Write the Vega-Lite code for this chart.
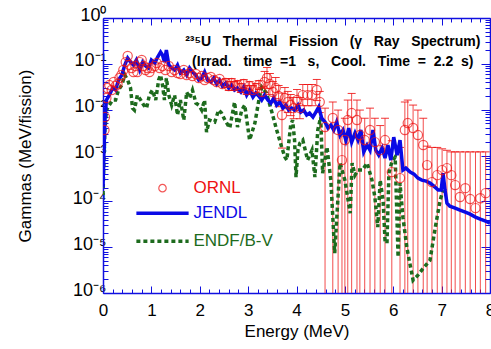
{
  "$schema": "https://vega.github.io/schema/vega-lite/v6.json",
  "width": 387,
  "height": 275,
  "autosize": {"type": "none"},
  "padding": {"left": 103, "top": 18, "right": 1, "bottom": 56},
  "background": "white",
  "config": {
    "view": {"stroke": null},
    "font": "Liberation Sans",
    "axis": {"grid": false, "labelFont": "Liberation Sans", "titleFont": "Liberation Sans"}
  },
  "datasets": {
    "jendl": [{"x":0,"y":0.000204},{"x":0.02,"y":0.00131},{"x":0.04,"y":0.00593},{"x":0.07,"y":0.0162},{"x":0.13,"y":0.0208},{"x":0.2,"y":0.0296},{"x":0.26,"y":0.0268},{"x":0.32,"y":0.0443},{"x":0.39,"y":0.0569},{"x":0.45,"y":0.094},{"x":0.51,"y":0.134},{"x":0.57,"y":0.109},{"x":0.63,"y":0.094},{"x":0.69,"y":0.121},{"x":0.76,"y":0.0733},{"x":0.82,"y":0.109},{"x":0.88,"y":0.0895},{"x":0.94,"y":0.081},{"x":1.0,"y":0.121},{"x":1.07,"y":0.104},{"x":1.13,"y":0.141},{"x":1.19,"y":0.181},{"x":1.23,"y":0.156},{"x":1.27,"y":0.109},{"x":1.31,"y":0.2},{"x":1.36,"y":0.094},{"x":1.42,"y":0.081},{"x":1.48,"y":0.0733},{"x":1.54,"y":0.094},{"x":1.6,"y":0.063},{"x":1.67,"y":0.0733},{"x":1.73,"y":0.0569},{"x":1.79,"y":0.081},{"x":1.85,"y":0.0662},{"x":1.92,"y":0.0569},{"x":1.98,"y":0.0443},{"x":2.04,"y":0.049},{"x":2.1,"y":0.0662},{"x":2.16,"y":0.0443},{"x":2.23,"y":0.0401},{"x":2.29,"y":0.049},{"x":2.35,"y":0.0362},{"x":2.41,"y":0.0443},{"x":2.47,"y":0.0327},{"x":2.54,"y":0.0381},{"x":2.6,"y":0.0296},{"x":2.66,"y":0.0344},{"x":2.72,"y":0.0268},{"x":2.78,"y":0.0296},{"x":2.85,"y":0.0242},{"x":2.91,"y":0.0311},{"x":2.97,"y":0.0208},{"x":3.03,"y":0.0268},{"x":3.1,"y":0.0188},{"x":3.16,"y":0.023},{"x":3.22,"y":0.0198},{"x":3.28,"y":0.0162},{"x":3.34,"y":0.0208},{"x":3.41,"y":0.0162},{"x":3.47,"y":0.0139},{"x":3.53,"y":0.0179},{"x":3.59,"y":0.0126},{"x":3.65,"y":0.0147},{"x":3.72,"y":0.0108},{"x":3.78,"y":0.0126},{"x":3.84,"y":0.0098},{"x":3.9,"y":0.0108},{"x":3.96,"y":0.0098},{"x":4.03,"y":0.0126},{"x":4.09,"y":0.00887},{"x":4.15,"y":0.0098},{"x":4.21,"y":0.00762},{"x":4.27,"y":0.00843},{"x":4.34,"y":0.00689},{"x":4.4,"y":0.00887},{"x":4.46,"y":0.0115},{"x":4.52,"y":0.00656},{"x":4.59,"y":0.00536},{"x":4.65,"y":0.00397},{"x":4.71,"y":0.00461},{"x":4.77,"y":0.00359},{"x":4.83,"y":0.00536},{"x":4.9,"y":0.00279},{"x":4.96,"y":0.00359},{"x":5.02,"y":0.00217},{"x":5.08,"y":0.00397},{"x":5.14,"y":0.00196},{"x":5.21,"y":0.00308},{"x":5.27,"y":0.00217},{"x":5.33,"y":0.00359},{"x":5.39,"y":0.00119},{"x":5.46,"y":0.00169},{"x":5.52,"y":0.00131},{"x":5.58,"y":0.00359},{"x":5.64,"y":0.00131},{"x":5.7,"y":0.00102},{"x":5.77,"y":0.00145},{"x":5.83,"y":0.000878},{"x":5.89,"y":0.00169},{"x":5.95,"y":0.000794},{"x":6.01,"y":0.00252},{"x":6.08,"y":0.00102},{"x":6.14,"y":0.00217},{"x":6.2,"y":0.00048},{"x":6.26,"y":0.000531},{"x":6.35,"y":0.000434},{"x":6.43,"y":0.000393},{"x":6.51,"y":0.000321},{"x":6.59,"y":0.00029},{"x":6.68,"y":0.000276},{"x":6.76,"y":0.00025},{"x":6.84,"y":0.000215},{"x":6.93,"y":0.000176},{"x":6.99,"y":0.000176},{"x":7.03,"y":0.000413},{"x":7.07,"y":0.000176},{"x":7.11,"y":0.0000914},{"x":7.17,"y":0.0000785},{"x":7.28,"y":0.0000711},{"x":7.38,"y":0.0000643},{"x":7.49,"y":0.0000581},{"x":7.59,"y":0.0000526},{"x":7.7,"y":0.0000452},{"x":7.8,"y":0.0000409},{"x":7.91,"y":0.000037},{"x":8.0,"y":0.0000334}],
    "endf": [{"x":0,"y":0.000137},{"x":0.02,"y":0.000794},{"x":0.04,"y":0.00359},{"x":0.07,"y":0.0098},{"x":0.13,"y":0.0126},{"x":0.2,"y":0.0162},{"x":0.26,"y":0.0162},{"x":0.32,"y":0.0268},{"x":0.39,"y":0.0344},{"x":0.45,"y":0.0569},{"x":0.51,"y":0.0443},{"x":0.57,"y":0.0296},{"x":0.61,"y":0.0108},{"x":0.65,"y":0.0098},{"x":0.71,"y":0.0208},{"x":0.78,"y":0.0162},{"x":0.84,"y":0.0126},{"x":0.9,"y":0.0108},{"x":0.96,"y":0.0208},{"x":1.02,"y":0.0268},{"x":1.09,"y":0.0162},{"x":1.15,"y":0.0443},{"x":1.19,"y":0.0569},{"x":1.23,"y":0.0344},{"x":1.27,"y":0.0162},{"x":1.31,"y":0.049},{"x":1.36,"y":0.0208},{"x":1.42,"y":0.0126},{"x":1.48,"y":0.0208},{"x":1.54,"y":0.00762},{"x":1.6,"y":0.0162},{"x":1.67,"y":0.00593},{"x":1.73,"y":0.0242},{"x":1.79,"y":0.0179},{"x":1.85,"y":0.0268},{"x":1.92,"y":0.0139},{"x":1.98,"y":0.0126},{"x":2.04,"y":0.0098},{"x":2.1,"y":0.0162},{"x":2.14,"y":0.00324},{"x":2.2,"y":0.00593},{"x":2.31,"y":0.00536},{"x":2.39,"y":0.0098},{"x":2.45,"y":0.00843},{"x":2.52,"y":0.00593},{"x":2.62,"y":0.00397},{"x":2.72,"y":0.0147},{"x":2.78,"y":0.00417},{"x":2.87,"y":0.0098},{"x":2.93,"y":0.0126},{"x":3.03,"y":0.00217},{"x":3.14,"y":0.0051},{"x":3.24,"y":0.0208},{"x":3.28,"y":0.0311},{"x":3.38,"y":0.023},{"x":3.49,"y":0.00887},{"x":3.59,"y":0.00359},{"x":3.7,"y":0.00145},{"x":3.76,"y":0.000923},{"x":3.8,"y":0.000794},{"x":3.88,"y":0.00461},{"x":3.92,"y":0.00593},{"x":3.96,"y":0.00217},{"x":3.99,"y":0.000338},{"x":4.03,"y":0.00131},{"x":4.07,"y":0.00187},{"x":4.13,"y":0.00217},{"x":4.23,"y":0.000794},{"x":4.32,"y":0.00131},{"x":4.38,"y":0.000338},{"x":4.44,"y":0.00359},{"x":4.5,"y":0.00689},{"x":4.54,"y":0.000413},{"x":4.63,"y":0.00153},{"x":4.71,"y":0.00029},{"x":4.79,"y":0.0000074},{"x":4.83,"y":0.0000389},{"x":4.9,"y":0.000683},{"x":5.0,"y":0.00029},{"x":5.11,"y":0.0000553},{"x":5.15,"y":0.000683},{"x":5.21,"y":0.000373},{"x":5.27,"y":0.00048},{"x":5.36,"y":0.00048},{"x":5.46,"y":0.000683},{"x":5.56,"y":0.00029},{"x":5.62,"y":0.000124},{"x":5.68,"y":0.0000273},{"x":5.73,"y":0.00029},{"x":5.79,"y":0.000106},{"x":5.83,"y":0.0000142},{"x":5.87,"y":0.0000122},{"x":5.91,"y":0.000413},{"x":5.97,"y":0.000718},{"x":6.04,"y":0.000923},{"x":6.1,"y":0.00000605},{"x":6.14,"y":0.00025},{"x":6.2,"y":0.0000452},{"x":6.28,"y":0.00001},{"x":6.35,"y":0.00000405},{"x":6.41,"y":0.0000019},{"x":6.51,"y":0.00000245},{"x":6.62,"y":0.00000348},{"x":6.76,"y":0.0000052},{"x":6.87,"y":0.0000273},{"x":6.97,"y":0.000106},{"x":7.03,"y":0.000176}],
    "ornl": [{"x":0.03,"v":0.00359},{"x":0.04,"v":0.00689},{"x":0.07,"v":0.0179},{"x":0.09,"v":0.0296},{"x":0.13,"v":0.0344},{"x":0.18,"v":0.0268},{"x":0.22,"v":0.0401},{"x":0.26,"v":0.0327},{"x":0.3,"v":0.0362},{"x":0.34,"v":0.049},{"x":0.38,"v":0.0569},{"x":0.42,"v":0.0733},{"x":0.47,"v":0.109},{"x":0.51,"v":0.148},{"x":0.55,"v":0.094},{"x":0.59,"v":0.081},{"x":0.63,"v":0.0662},{"x":0.67,"v":0.0895},{"x":0.71,"v":0.0662},{"x":0.76,"v":0.109},{"x":0.8,"v":0.121},{"x":0.84,"v":0.0895},{"x":0.88,"v":0.0733},{"x":0.92,"v":0.081},{"x":0.96,"v":0.0662},{"x":1.0,"v":0.081},{"x":1.07,"v":0.0895},{"x":1.11,"v":0.104},{"x":1.17,"v":0.081},{"x":1.23,"v":0.0895},{"x":1.29,"v":0.0733},{"x":1.36,"v":0.0895},{"x":1.42,"v":0.0662},{"x":1.48,"v":0.0733},{"x":1.54,"v":0.063},{"x":1.6,"v":0.0599},{"x":1.67,"v":0.0733},{"x":1.73,"v":0.0569},{"x":1.79,"v":0.063},{"x":1.85,"v":0.0542},{"x":1.92,"v":0.0599},{"x":1.98,"v":0.049},{"x":2.04,"v":0.0542},{"x":2.1,"v":0.0443},{"x":2.16,"v":0.049},{"x":2.23,"v":0.0515},{"x":2.29,"v":0.0443},{"x":2.35,"v":0.0401},{"x":2.41,"v":0.0466},{"x":2.47,"v":0.0362},
      {"x":2.54,"v":0.0381,"hi":0.0476,"lo":0.0305},{"x":2.6,"v":0.0327,"hi":0.0409,"lo":0.0262},{"x":2.66,"v":0.0381,"hi":0.0476,"lo":0.0305},{"x":2.72,"v":0.0327,"hi":0.0409,"lo":0.0262},{"x":2.78,"v":0.0344,"hi":0.043,"lo":0.0275},{"x":2.85,"v":0.0296,"hi":0.037,"lo":0.0237},{"x":2.91,"v":0.0362,"hi":0.0453,"lo":0.029},{"x":2.97,"v":0.0268,"hi":0.0335,"lo":0.0214},{"x":3.03,"v":0.0327,"hi":0.0409,"lo":0.0262},{"x":3.1,"v":0.0268,"hi":0.0335,"lo":0.0214},{"x":3.16,"v":0.0296,"hi":0.037,"lo":0.0237},{"x":3.22,"v":0.0344,"hi":0.043,"lo":0.0275},{"x":3.28,"v":0.0242,"hi":0.0303,"lo":0.0194},
      {"x":3.34,"v":0.0401,"hi":0.0682,"lo":0.0236},{"x":3.39,"v":0.049,"hi":0.0833,"lo":0.0288},{"x":3.45,"v":0.0362,"hi":0.0615,"lo":0.0213},{"x":3.51,"v":0.0242,"hi":0.0411,"lo":0.0142},{"x":3.57,"v":0.0296,"hi":0.0503,"lo":0.0174},{"x":3.63,"v":0.0198,"hi":0.0337,"lo":0.0116},{"x":3.7,"v":0.00762,"hi":0.023,"lo":0.00145},{"x":3.76,"v":0.0179,"hi":0.0304,"lo":0.0105},{"x":3.82,"v":0.0147,"hi":0.025,"lo":0.00865},{"x":3.88,"v":0.0126,"hi":0.0214,"lo":0.00741},{"x":3.94,"v":0.0108,"hi":0.0184,"lo":0.00635},{"x":4.01,"v":0.0162,"hi":0.0275,"lo":0.00953},{"x":4.07,"v":0.0108,"hi":0.0184,"lo":0.00635},{"x":4.13,"v":0.0208,"hi":0.0354,"lo":0.0122},{"x":4.23,"v":0.0208,"hi":0.0354,"lo":0.0122},{"x":4.32,"v":0.0208,"hi":0.0354,"lo":0.0122},{"x":4.42,"v":0.0268,"hi":0.0456,"lo":0.0158},{"x":4.48,"v":0.0147,"hi":0.025,"lo":0.00865},
      {"x":4.59,"v":0.00417,"hi":0.0108,"lo":5e-7},{"x":4.75,"v":0.00656,"hi":0.0147,"lo":5e-7},{"x":4.86,"v":0.00359,"hi":0.0098,"lo":5e-7},{"x":4.94,"v":0.000794,"hi":0.003,"lo":5e-7},{"x":5.0,"v":0.00217,"hi":0.0065,"lo":5e-7},{"x":5.06,"v":0.00593,"hi":0.0162,"lo":5e-7},{"x":5.14,"v":0.00843,"hi":0.0226,"lo":5e-7},{"x":5.25,"v":0.00593,"hi":0.0162,"lo":5e-7},{"x":5.31,"v":0.00279,"hi":0.0098,"lo":5e-7},{"x":5.41,"v":0.00217,"hi":0.0065,"lo":5e-7},{"x":5.52,"v":0.00359,"hi":0.0108,"lo":5e-7},{"x":5.62,"v":0.00196,"hi":0.0065,"lo":5e-7},{"x":5.73,"v":0.00131,"hi":0.0045,"lo":5e-7},{"x":5.83,"v":0.00217,"hi":0.0065,"lo":5e-7},{"x":5.97,"v":0.000434,"hi":0.0021,"lo":5e-7},{"x":6.14,"v":0.000321,"hi":0.0015,"lo":5e-7},{"x":6.24,"v":0.00359,"hi":0.0147,"lo":5e-7},{"x":6.3,"v":0.0051,"hi":0.0162,"lo":5e-7},{"x":6.41,"v":0.00397,"hi":0.0126,"lo":5e-7},{"x":6.51,"v":0.00279,"hi":0.0098,"lo":5e-7},{"x":6.62,"v":0.00169,"hi":0.0065,"lo":5e-7},{"x":6.7,"v":0.000617,"hi":0.0016,"lo":5e-7},{"x":6.8,"v":0.000263,"hi":0.0015,"lo":5e-7},{"x":6.91,"v":0.000373,"hi":0.0015,"lo":5e-7},{"x":7.01,"v":0.00048,"hi":0.0014,"lo":5e-7},{"x":7.11,"v":0.000531,"hi":0.0013,"lo":5e-7},{"x":7.2,"v":0.000373,"hi":0.0012,"lo":5e-7},{"x":7.28,"v":0.000226,"hi":0.0012,"lo":5e-7},{"x":7.38,"v":0.000124,"hi":0.0012,"lo":5e-7},{"x":7.49,"v":0.000194,"hi":0.0012,"lo":5e-7},{"x":7.59,"v":0.000112,"hi":0.0012,"lo":5e-7},{"x":7.7,"v":0.0000711,"hi":0.0012,"lo":5e-7},{"x":7.8,"v":0.000117,"hi":0.0012,"lo":5e-7},{"x":7.91,"v":0.000151,"hi":0.0012,"lo":5e-7}],
    "legendText": [{"x":1.87,"y":0.000194,"t":"ORNL"},{"x":1.87,"y":0.0000553,"t":"JENDL"},{"x":1.87,"y":0.0000135,"t":"ENDF/B-V"}],
    "legendLines": [{"x":0.69,"y":0.0000553,"s":"JENDL"},{"x":1.77,"y":0.0000553,"s":"JENDL"},{"x":0.69,"y":0.0000135,"s":"ENDF/B-V"},{"x":1.77,"y":0.0000135,"s":"ENDF/B-V"}],
    "legendCircle": [{"x":1.23,"y":0.000194}],
    "notes": [{"x":4.75,"y":0.299,"t":"²³⁵U\u00a0\u00a0\u00a0Thermal\u00a0\u00a0\u00a0Fission\u00a0\u00a0\u00a0(γ\u00a0\u00a0\u00a0Ray\u00a0\u00a0\u00a0Spectrum)"},{"x":4.75,"y":0.109,"t":"(Irrad.\u00a0\u00a0\u00a0time\u00a0\u00a0=1\u00a0\u00a0\u00a0s,\u00a0\u00a0\u00a0Cool.\u00a0\u00a0\u00a0Time\u00a0\u00a0=\u00a0\u00a02.2\u00a0\u00a0s)"}]
  },
  "layer": [
    {
      "data": {"name": "ornl"},
      "transform": [{"filter": "isValid(datum.hi)"}],
      "mark": {"type": "rule", "color": "#ee1111", "opacity": 0.75, "strokeWidth": 1, "clip": true},
      "encoding": {
        "x": {"field": "x", "type": "quantitative", "scale": {"domain": [0, 8], "nice": false, "zero": false}, "axis": null},
        "y": {"field": "lo", "type": "quantitative", "scale": {"type": "log", "domain": [1e-6, 1], "nice": false}, "axis": null},
        "y2": {"field": "hi"}
      }
    },
    {
      "data": {"name": "ornl"},
      "transform": [{"filter": "isValid(datum.hi)"}],
      "mark": {"type": "tick", "orient": "horizontal", "color": "#ee1111", "size": 8, "thickness": 1, "opacity": 0.85, "clip": true},
      "encoding": {
        "x": {"field": "x", "type": "quantitative", "axis": null},
        "y": {"field": "hi", "type": "quantitative", "axis": null}
      }
    },
    {
      "data": {"name": "ornl"},
      "transform": [{"filter": "isValid(datum.lo) && datum.lo > 1e-6"}],
      "mark": {"type": "tick", "orient": "horizontal", "color": "#ee1111", "size": 8, "thickness": 1, "opacity": 0.85, "clip": true},
      "encoding": {
        "x": {"field": "x", "type": "quantitative", "axis": null},
        "y": {"field": "lo", "type": "quantitative", "axis": null}
      }
    },
    {
      "data": {"name": "endf"},
      "mark": {"type": "line", "color": "#1d6b1d", "strokeWidth": 3.5, "strokeDash": [4, 3], "clip": true},
      "encoding": {
        "x": {"field": "x", "type": "quantitative", "axis": {
          "orient": "top", "values": [0,0.2,0.4,0.6,0.8,1,1.2,1.4,1.6,1.8,2,2.2,2.4,2.6,2.8,3,3.2,3.4,3.6,3.8,4,4.2,4.4,4.6,4.8,5,5.2,5.4,5.6,5.8,6,6.2,6.4,6.6,6.8,7,7.2,7.4,7.6,7.8,8],
          "labels": false, "title": null, "domainColor": "#1010e0", "domainWidth": 1.5, "tickColor": "#1010e0", "tickWidth": 1,
          "tickSize": {"condition": {"test": "abs(datum.value - round(datum.value)) < 0.01", "value": -7}, "value": -4}
        }},
        "y": {"field": "y", "type": "quantitative", "axis": {
          "orient": "right", "values": [1e-6,2e-6,3e-6,4e-6,5e-6,6e-6,7e-6,8e-6,9e-6,1e-5,2e-5,3e-5,4e-5,5e-5,6e-5,7e-5,8e-5,9e-5,1e-4,2e-4,3e-4,4e-4,5e-4,6e-4,7e-4,8e-4,9e-4,1e-3,2e-3,3e-3,4e-3,5e-3,6e-3,7e-3,8e-3,9e-3,0.01,0.02,0.03,0.04,0.05,0.06,0.07,0.08,0.09,0.1,0.2,0.3,0.4,0.5,0.6,0.7,0.8,0.9,1],
          "labels": false, "title": null, "domainColor": "#1010e0", "domainWidth": 1.5, "tickColor": "#1010e0", "tickWidth": 1,
          "tickSize": {"condition": {"test": "abs(log(datum.value)/LN10 - round(log(datum.value)/LN10)) < 0.01", "value": -9}, "value": -5}
        }}
      }
    },
    {
      "data": {"name": "jendl"},
      "mark": {"type": "line", "color": "#0a0ae6", "strokeWidth": 3.5, "clip": true},
      "encoding": {
        "x": {"field": "x", "type": "quantitative", "axis": {
          "orient": "bottom", "values": [0,0.2,0.4,0.6,0.8,1,1.2,1.4,1.6,1.8,2,2.2,2.4,2.6,2.8,3,3.2,3.4,3.6,3.8,4,4.2,4.4,4.6,4.8,5,5.2,5.4,5.6,5.8,6,6.2,6.4,6.6,6.8,7,7.2,7.4,7.6,7.8,8],
          "labelExpr": "abs(datum.value - round(datum.value)) < 0.01 ? format(datum.value, 'd') : ''",
          "labelFontSize": 17, "labelColor": "black", "labelPadding": 16, "labelFlush": false, "labelOverlap": false,
          "title": "Energy (MeV)", "titleFontSize": 17, "titleFontWeight": "normal", "titleColor": "black", "titlePadding": 2,
          "domainColor": "#1010e0", "domainWidth": 1.5, "tickColor": "#1010e0", "tickWidth": 1,
          "tickSize": {"condition": {"test": "abs(datum.value - round(datum.value)) < 0.01", "value": -7}, "value": -4}
        }},
        "y": {"field": "y", "type": "quantitative", "axis": {
          "orient": "left", "values": [1e-6,2e-6,3e-6,4e-6,5e-6,6e-6,7e-6,8e-6,9e-6,1e-5,2e-5,3e-5,4e-5,5e-5,6e-5,7e-5,8e-5,9e-5,1e-4,2e-4,3e-4,4e-4,5e-4,6e-4,7e-4,8e-4,9e-4,1e-3,2e-3,3e-3,4e-3,5e-3,6e-3,7e-3,8e-3,9e-3,0.01,0.02,0.03,0.04,0.05,0.06,0.07,0.08,0.09,0.1,0.2,0.3,0.4,0.5,0.6,0.7,0.8,0.9,1],
          "labelExpr": "abs(log(datum.value)/LN10 - round(log(datum.value)/LN10)) < 0.01 ? ['10⁰','10⁻¹','10⁻²','10⁻³','10⁻⁴','10⁻⁵','10⁻⁶'][round(-log(datum.value)/LN10)] : ''",
          "labelFontSize": 18, "labelColor": "black", "labelPadding": 6, "labelOffset": -3, "labelOverlap": false, "labelFlush": false,
          "title": "Gammas (MeV/fission)", "titleFontSize": 17, "titleFontWeight": "normal", "titleColor": "black", "titlePadding": 38,
          "domainColor": "#1010e0", "domainWidth": 1.5, "tickColor": "#1010e0", "tickWidth": 1,
          "tickSize": {"condition": {"test": "abs(log(datum.value)/LN10 - round(log(datum.value)/LN10)) < 0.01", "value": -9}, "value": -5}
        }}
      }
    },
    {
      "data": {"name": "ornl"},
      "mark": {"type": "point", "shape": "circle", "filled": false, "color": "#ee1111", "size": 85, "strokeWidth": 1.2, "clip": true},
      "encoding": {
        "x": {"field": "x", "type": "quantitative", "axis": null},
        "y": {"field": "v", "type": "quantitative", "axis": null}
      }
    },
    {
      "data": {"name": "legendCircle"},
      "mark": {"type": "point", "shape": "circle", "filled": false, "color": "#ee1111", "size": 55, "strokeWidth": 1.2},
      "encoding": {
        "x": {"field": "x", "type": "quantitative", "axis": null},
        "y": {"field": "y", "type": "quantitative", "axis": null}
      }
    },
    {
      "data": {"name": "legendLines"},
      "mark": {"type": "line", "strokeWidth": 3.5},
      "encoding": {
        "x": {"field": "x", "type": "quantitative", "axis": null},
        "y": {"field": "y", "type": "quantitative", "axis": null},
        "detail": {"field": "s"},
        "color": {"field": "s", "type": "nominal", "scale": {"domain": ["ORNL", "JENDL", "ENDF/B-V"], "range": ["#ee1111", "#0a0ae6", "#1d6b1d"]}, "legend": null},
        "strokeDash": {"field": "s", "type": "nominal", "scale": {"domain": ["JENDL", "ENDF/B-V"], "range": [[1, 0], [4, 3]]}, "legend": null}
      }
    },
    {
      "data": {"name": "legendText"},
      "mark": {"type": "text", "align": "left", "baseline": "middle", "fontSize": 17, "font": "Liberation Sans"},
      "encoding": {
        "x": {"field": "x", "type": "quantitative", "axis": null},
        "y": {"field": "y", "type": "quantitative", "axis": null},
        "text": {"field": "t"},
        "color": {"field": "t", "type": "nominal", "scale": {"domain": ["ORNL", "JENDL", "ENDF/B-V"], "range": ["#ee1111", "#0a0ae6", "#1d6b1d"]}, "legend": null}
      }
    },
    {
      "data": {"name": "notes"},
      "mark": {"type": "text", "align": "center", "baseline": "middle", "fontSize": 14, "fontWeight": "bold", "font": "Liberation Sans", "color": "black"},
      "encoding": {
        "x": {"field": "x", "type": "quantitative", "axis": null},
        "y": {"field": "y", "type": "quantitative", "axis": null},
        "text": {"field": "t"}
      }
    }
  ],
  "resolve": {"axis": {"x": "independent", "y": "independent"}}
}
